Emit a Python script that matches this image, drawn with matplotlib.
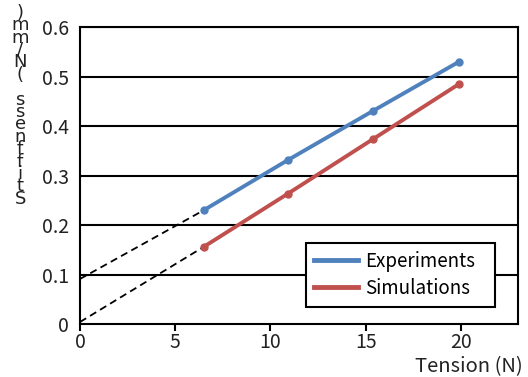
import matplotlib
matplotlib.use('Agg')
import matplotlib.pyplot as plt

plt.rcParams['font.family'] = ['Noto Sans CJK KR', 'DejaVu Sans']

# datos
tensao = [6.5, 10.9, 15.4, 19.9]
experimentos = [0.230, 0.331, 0.431, 0.530]
simulacoes = [0.156, 0.263, 0.374, 0.485]

# extrapolações tracejadas até x = 0
ext_x = [0, 6.5]
ext_exp = [0.091, 0.230]
ext_sim = [0.004, 0.156]

yticks = [0, 0.1, 0.2, 0.3, 0.4, 0.5, 0.6]
ytick_labels = ['0', '0.1', '0.2', '0.3', '0.4', '0.5', '0.6']
xticks = [0, 5, 10, 15, 20]

fig = plt.figure(figsize=(5.28, 3.77), dpi=100)
ax = fig.add_axes([0.1515, 0.1406, 0.8295, 0.7874])

for y in yticks[1:]:
    ax.axhline(y, color='black', lw=1.5, zorder=1)

ax.plot(ext_x, ext_exp, color='black', lw=1.3, ls=(0, (4, 2.5)), zorder=2)
ax.plot(ext_x, ext_sim, color='black', lw=1.3, ls=(0, (4, 2.5)), zorder=2)

ax.plot(tensao, experimentos, color='#4F81BD', lw=2.8, marker='o', ms=5,
        label='Experiments', zorder=3)
ax.plot(tensao, simulacoes, color='#C0504D', lw=2.8, marker='o', ms=5,
        label='Simulations', zorder=3)

ax.set_xlim(0, 23)
ax.set_ylim(0, 0.6)
ax.set_xticks(xticks)
ax.set_yticks(yticks)
ax.set_yticklabels(ytick_labels)
ax.tick_params(axis='x', direction='out', length=5, width=1.5, labelsize=14, pad=1,
               labelcolor='#222222')
ax.tick_params(axis='y', length=0, labelsize=14, pad=8, labelcolor='#222222')
for s in ax.spines.values():
    s.set_linewidth(1.5)
    s.set_color('black')

fig.text(0.99, 0.0, 'Tension (N)', ha='right', va='bottom', fontsize=14.5,
         color='#222222')

rotulo_y = 'Stiffness (N/mm)'
fig.text(0.038, 0.99, '\n'.join(reversed(rotulo_y)), ha='center', va='top',
         ma='center', fontsize=13, linespacing=0.6, color='#222222',
         family='DejaVu Sans')

leg = ax.legend(loc='lower left', bbox_to_anchor=(0.516, 0.057, 0.431, 0.233),
                mode='expand', borderaxespad=0, fancybox=False, edgecolor='black',
                framealpha=1, handlelength=2.3, handletextpad=0.4,
                borderpad=0.45, labelspacing=0.3, prop={'size': 13.5})
leg.get_frame().set_linewidth(1.5)
for h in leg.get_lines():
    h.set_marker('')
    h.set_linewidth(3.5)

fig.savefig('out.png', dpi=100)
